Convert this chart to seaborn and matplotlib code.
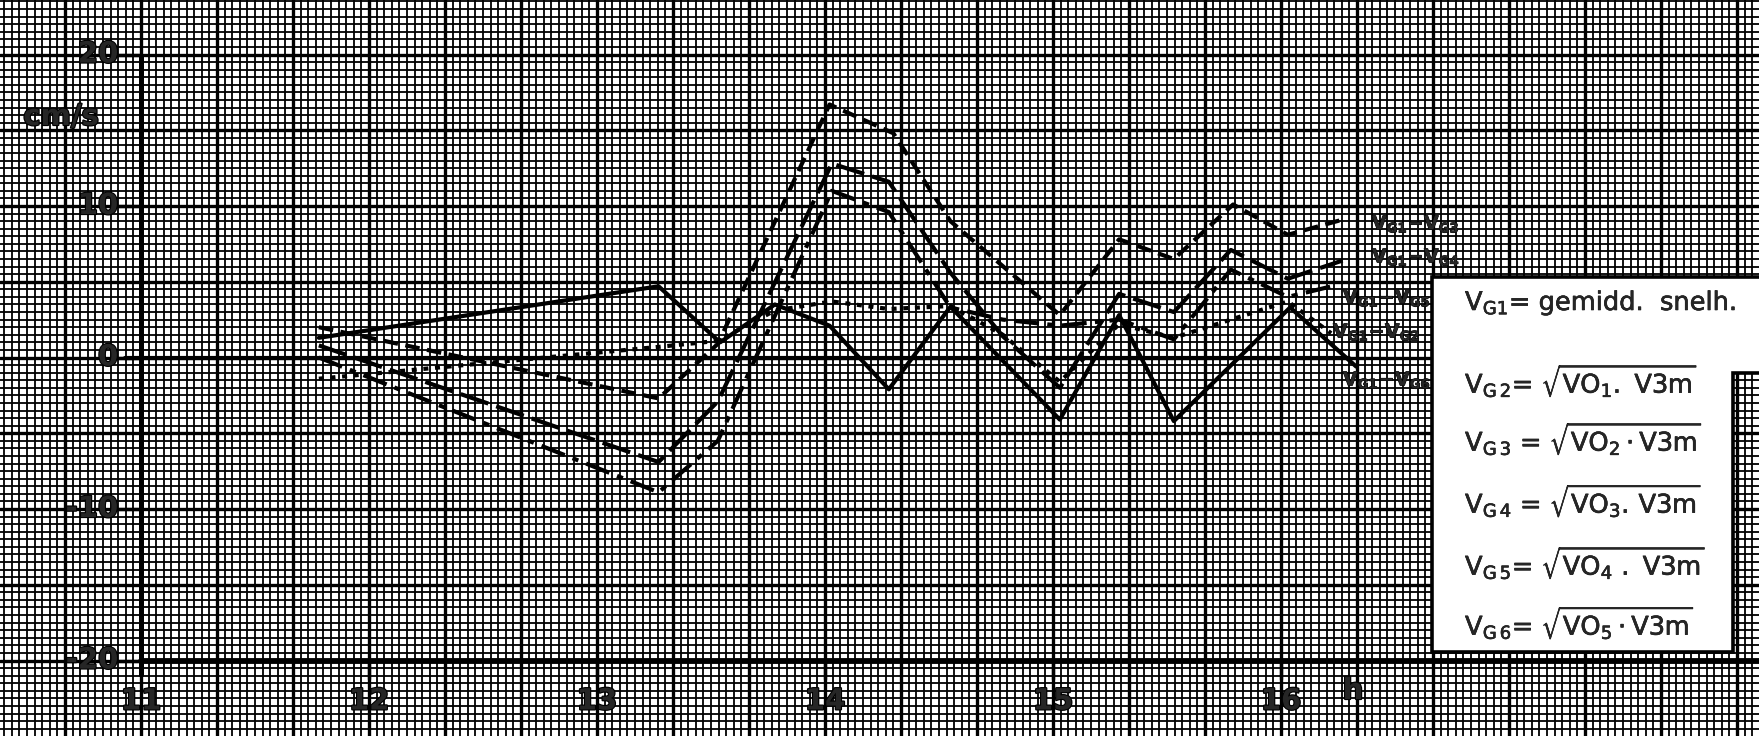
import matplotlib
matplotlib.use("Agg")
import matplotlib.pyplot as plt
import matplotlib.patheffects as pe
from matplotlib.ticker import MultipleLocator
from matplotlib.patches import Polygon
from matplotlib import font_manager
import pandas as pd
import seaborn as sns

# ---------------- data ----------------
series_names = ["VG1-VG3", "VG1-VG4", "VG1-VG5", "VG1-VG2", "VG1-VG6"]

t_vg3 = [11.78, 13.27, 13.53, 14.02, 14.30, 14.55, 15.03, 15.29, 15.53, 15.79, 16.03, 16.27]
v_vg3 = [2.0, -2.7, 0.9, 16.7, 14.8, 9.0, 2.8, 7.8, 6.5, 10.1, 8.1, 9.1]

t_vg4 = [11.78, 13.27, 13.53, 14.03, 14.28, 14.55, 14.78, 15.03, 15.29, 15.53, 15.78, 16.03, 16.27]
v_vg4 = [0.8, -6.9, -2.9, 12.8, 11.6, 5.6, 1.4, -2.0, 4.2, 3.0, 7.1, 5.2, 6.4]

t_vg5 = [11.78, 13.27, 13.53, 14.03, 14.28, 14.55, 14.78, 15.03, 15.29, 15.53, 15.78, 16.03, 16.25]
v_vg5 = [0.0, -8.9, -5.5, 11.0, 9.6, 3.3, 2.5, 2.1, 2.5, 1.2, 5.8, 4.0, 4.8]

t_vg2 = [11.78, 13.27, 13.53, 13.78, 14.03, 14.28, 14.55, 14.78, 15.03, 15.29, 15.53, 16.03, 16.22]
v_vg2 = [-1.4, 0.7, 1.1, 3.1, 3.7, 3.2, 3.4, 1.5, -1.6, 2.2, 1.3, 3.7, 1.6]

t_vg6 = [11.78, 13.27, 13.54, 13.78, 14.02, 14.28, 14.55, 15.03, 15.29, 15.53, 16.04, 16.33]
v_vg6 = [1.3, 4.7, 1.0, 3.5, 2.1, -2.1, 3.35, -4.1, 2.8, -4.2, 3.3, -0.6]

y_ticks = [20, 10, 0, -10, -20]
x_ticks = [11, 12, 13, 14, 15, 16]
y_unit = "cm/s"
x_unit = "h"

series_labels = {
    "VG1-VG3": r"$\mathbf{V_{G1}\!-\!V_{G3}}$",
    "VG1-VG4": r"$\mathbf{V_{G1}\!-\!V_{G4}}$",
    "VG1-VG5": r"$\mathbf{V_{G1}\!-\!V_{G5}}$",
    "VG1-VG2": r"$\mathbf{V_{G1}\!-\!V_{G2}}$",
    "VG1-VG6": r"$\mathbf{V_{G1}\!-\!V_{G6}}$",
}
legend_lines = [
    r"$\mathrm{V_{G1}}$= gemidd.  snelh.",
    r"$\mathrm{V_{G\,2}}$= $\sqrt{\mathrm{VO_1.\ V3m}}$",
    r"$\mathrm{V_{G\,3}}$ = $\sqrt{\mathrm{VO_2\cdot V3m}}$",
    r"$\mathrm{V_{G\,4}}$ = $\sqrt{\mathrm{VO_3.\,V3m}}$",
    r"$\mathrm{V_{G\,5}}$= $\sqrt{\mathrm{VO_4\ .\ V3m}}$",
    r"$\mathrm{V_{G\,6}}$= $\sqrt{\mathrm{VO_5\cdot V3m}}$",
]

frames = []
for name, t, v in [("VG1-VG3", t_vg3, v_vg3), ("VG1-VG4", t_vg4, v_vg4),
                   ("VG1-VG5", t_vg5, v_vg5), ("VG1-VG2", t_vg2, v_vg2),
                   ("VG1-VG6", t_vg6, v_vg6)]:
    frames.append(pd.DataFrame({"t": t, "v": v, "series": name}))
df = pd.concat(frames, ignore_index=True)

# ---------------- styling ----------------
sns.set_theme(style="white")
plt.rcParams["font.family"] = ["DejaVu Sans"]
plt.rcParams["mathtext.fontset"] = "dejavusans"

installed = {f.name for f in font_manager.fontManager.ttflist}
narrow = "Liberation Sans Narrow" if "Liberation Sans Narrow" in installed else "DejaVu Sans"
num_size = 25 if narrow != "DejaVu Sans" else 21
heavy = [pe.withStroke(linewidth=1.6, foreground="black")]
medium = [pe.withStroke(linewidth=0.7, foreground="black")]
light = [pe.withStroke(linewidth=0.4, foreground="black")]

W, H = 1759, 736
fig = plt.figure(figsize=(W / 100, H / 100), dpi=100)
fig.patch.set_facecolor("white")
ax = fig.add_axes([0, 0, 1, 1])

# pixel calibration of the paper
px_x0, ppx = 141.0, 228.0       # x = 11 at 141 px, 228 px per hour
px_y0, ppy = 357.5, 15.15       # y = 0 at 357.5 px from top
xmin, xmax = 11 - px_x0 / ppx, 11 + (W - px_x0) / ppx
ymin, ymax = -(H - px_y0) / ppy, px_y0 / ppy
ax.set_xlim(xmin, xmax)
ax.set_ylim(ymin, ymax)

def fx(px):
    return px / W

def fy(py):
    return 1 - py / H

# graph paper
ax.xaxis.set_major_locator(MultipleLocator(1 / 3))
ax.xaxis.set_minor_locator(MultipleLocator(1 / 30))
ax.yaxis.set_major_locator(MultipleLocator(5))
ax.yaxis.set_minor_locator(MultipleLocator(0.5))
ax.set_axisbelow(True)
ax.grid(which="minor", color="black", linewidth=1.3)
ax.grid(which="major", color="black", linewidth=2.4)
ax.tick_params(which="both", length=0, labelbottom=False, labelleft=False)
for s in ax.spines.values():
    s.set_visible(False)

# data lines
dashes = {"VG1-VG3": (3.5, 1.8), "VG1-VG4": (7, 2), "VG1-VG5": (6, 2, 1.5, 2),
          "VG1-VG2": (1.2, 1.6), "VG1-VG6": ""}
sns.lineplot(data=df, x="t", y="v", style="series", style_order=series_names,
             dashes=dashes, color="black", linewidth=3.0, estimator=None,
             legend=False, ax=ax, zorder=3)
ax.set_xlabel("")
ax.set_ylabel("")

# chart axes drawn on the paper
ax.plot([x_ticks[0], x_ticks[0]], [y_ticks[-1] - 1.0, y_ticks[0]], color="black",
        lw=3.6, solid_capstyle="butt", zorder=3)
ax.plot([x_ticks[0], xmax], [y_ticks[-1], y_ticks[-1]], color="black", lw=4.2, zorder=3)
ax.plot([x_ticks[0] - 0.07, 16.3], [0, 0], color="black", lw=3.0, zorder=3)
for v in y_ticks:
    ax.plot([x_ticks[0] - 0.11, x_ticks[0]], [v, v], color="black", lw=2.4, zorder=3)
    ax.text(x_ticks[0] - 0.1, v, f"{v}", ha="right", va="center", fontsize=num_size,
            fontweight="bold", family=[narrow, "DejaVu Sans"], zorder=4, path_effects=heavy)
for v in x_ticks:
    if v != x_ticks[0]:
        ax.plot([v, v], [y_ticks[-1], y_ticks[-1] - 1.2], color="black", lw=2.4, zorder=3)
    ax.text(v, y_ticks[-1] - 2.7, f"{v}", ha="center", va="center", fontsize=num_size,
            fontweight="bold", family=[narrow, "DejaVu Sans"], zorder=4, path_effects=heavy)
ax.text(fx(1353), fy(691), x_unit, transform=ax.transAxes, ha="center", va="center",
        fontsize=num_size, fontweight="bold", family=[narrow, "DejaVu Sans"], zorder=4,
        path_effects=heavy)
ax.text(fx(61), fy(117), y_unit, transform=ax.transAxes, ha="center", va="center",
        fontsize=21, fontweight="bold", zorder=4, path_effects=heavy)

# series labels at the line ends
label_pos = {"VG1-VG3": (1372, 224), "VG1-VG4": (1372, 257), "VG1-VG5": (1343, 298),
             "VG1-VG2": (1333, 332), "VG1-VG6": (1343, 380)}
for name in series_names:
    px, py = label_pos[name]
    ax.text(fx(px), fy(py), series_labels[name], transform=ax.transAxes, ha="left",
            va="center", fontsize=13.5, zorder=4, path_effects=medium)

# legend box (white panel with notched lower-right corner)
verts = [(1432, 277), (1762, 277), (1762, 373), (1733, 373), (1733, 652), (1432, 652)]
box = Polygon([(fx(a), fy(b)) for a, b in verts], closed=True, transform=ax.transAxes,
              facecolor="white", edgecolor="black", lw=2.6, zorder=5)
ax.add_patch(box)
legend_y = [303, 380, 438, 500, 562, 622]
for txt, py in zip(legend_lines, legend_y):
    ax.text(fx(1465), fy(py), txt, transform=ax.transAxes, ha="left", va="center",
            fontsize=18.5, zorder=6, path_effects=light)

fig.savefig("out.png", dpi=100)
